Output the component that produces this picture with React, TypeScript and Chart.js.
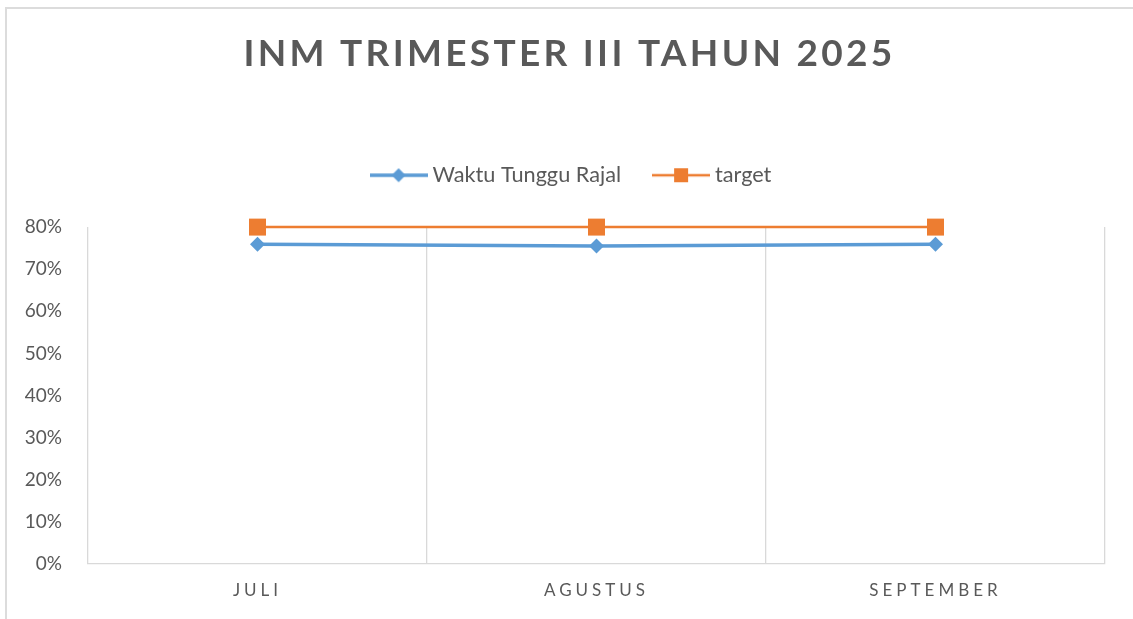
import React, { useEffect, useRef } from "react";
import { Chart, registerables } from "chart.js";

Chart.register(...registerables);

const categories = ["JULI", "AGUSTUS", "SEPTEMBER"];
const waktuTungguRajal = [75.9, 75.5, 75.9];
const targetValues = [80, 80, 80];
const seriesNames = ["Waktu Tunggu Rajal", "target"];
const chartTitle = "INM TRIMESTER III TAHUN 2025";
const yMax = 80;
const yStep = 10;

const BLUE = "#5B9BD5";
const ORANGE = "#ED7D31";
const TEXT = "#595959";
const GRID = "#d9d9d9";
const FONT = "Lato, 'Open Sans', sans-serif";

function makeLegendIcon(color: string, lineWidth: number, shape: "diamond" | "square"): HTMLCanvasElement {
  const c = document.createElement("canvas");
  c.width = 58;
  c.height = 18;
  const ctx = c.getContext("2d")!;
  ctx.strokeStyle = color;
  ctx.fillStyle = color;
  ctx.lineWidth = lineWidth;
  ctx.beginPath();
  ctx.moveTo(0, 9);
  ctx.lineTo(58, 9);
  ctx.stroke();
  if (shape === "diamond") {
    ctx.beginPath();
    ctx.moveTo(29 - 7, 9);
    ctx.lineTo(29, 2);
    ctx.lineTo(29 + 7, 9);
    ctx.lineTo(29, 16);
    ctx.closePath();
    ctx.fill();
  } else {
    ctx.fillRect(29 - 7, 2, 14, 14);
  }
  return c;
}

function patchDraw(obj: any, fnName: string, ctx: CanvasRenderingContext2D, spacing: string, dx: number) {
  if (!obj || obj["__patched_" + fnName]) return;
  const orig = obj[fnName].bind(obj);
  obj[fnName] = (...args: any[]) => {
    ctx.save();
    (ctx as any).letterSpacing = spacing;
    ctx.translate(dx, 0);
    orig(...args);
    ctx.restore();
  };
  obj["__patched_" + fnName] = true;
}

const spacingPlugin = {
  id: "letterSpacingPatch",
  beforeDraw(chart: any) {
    const ctx = chart.ctx;
    patchDraw(chart.titleBlock, "draw", ctx, "3.3px", 7);
    patchDraw(chart.legend, "draw", ctx, "0px", 11);
    patchDraw(chart.scales.x, "drawLabels", ctx, "4px", 0);
  },
};

export default function App() {
  const ref = useRef<HTMLCanvasElement | null>(null);

  useEffect(() => {
    if (!ref.current) return;
    const icons = [makeLegendIcon(BLUE, 3.5, "diamond"), makeLegendIcon(ORANGE, 2.5, "square")];
    const chart = new Chart(ref.current, {
      type: "line",
      data: {
        labels: categories,
        datasets: [
          {
            label: seriesNames[0],
            data: waktuTungguRajal,
            borderColor: BLUE,
            backgroundColor: BLUE,
            borderWidth: 3.5,
            pointStyle: "rectRot",
            pointRadius: 7.5,
            pointBorderWidth: 0,
            pointBackgroundColor: BLUE,
            pointBorderColor: BLUE,
            tension: 0,
            clip: false,
          },
          {
            label: seriesNames[1],
            data: targetValues,
            borderColor: ORANGE,
            backgroundColor: ORANGE,
            borderWidth: 2.5,
            pointStyle: "rect",
            pointRadius: 12,
            pointBorderWidth: 0,
            pointBackgroundColor: ORANGE,
            pointBorderColor: ORANGE,
            tension: 0,
            clip: false,
          },
        ],
      },
      options: {
        animation: false,
        responsive: false,
        maintainAspectRatio: false,
        layout: { padding: { left: 20, right: 28, top: 0, bottom: 0 } },
        plugins: {
          title: {
            display: true,
            text: chartTitle,
            color: TEXT,
            font: { family: FONT, size: 37, weight: "bold", lineHeight: 1.2 },
            padding: { top: 32, bottom: 51 },
          },
          subtitle: {
            display: true,
            text: "",
            position: "top",
            weight: 500,
            font: { size: 10, lineHeight: 1 },
            padding: { top: 0, bottom: 21 },
          },
          legend: {
            display: true,
            position: "top",
            labels: {
              color: TEXT,
              font: { family: FONT, size: 21.7 },
              usePointStyle: true,
              pointStyleWidth: 46,
              padding: 37,
              generateLabels: (ch: any) =>
                ch.data.datasets.map((ds: any, i: number) => ({
                  text: ds.label,
                  fillStyle: ds.borderColor,
                  strokeStyle: ds.borderColor,
                  lineWidth: 0,
                  pointStyle: icons[i],
                  hidden: false,
                  datasetIndex: i,
                  fontColor: TEXT,
                })),
            },
          },
          tooltip: { enabled: false },
        },
        scales: {
          x: {
            type: "category",
            offset: true,
            grid: { display: true, offset: true, color: GRID, lineWidth: 1.3, drawTicks: false },
            border: { display: true, color: GRID, width: 1.3 },
            ticks: { color: TEXT, font: { family: FONT, size: 17 }, padding: 16, maxRotation: 0 },
            afterFit: (s: any) => {
              s.height = 55;
            },
          },
          y: {
            min: 0,
            max: yMax,
            ticks: {
              stepSize: yStep,
              color: TEXT,
              font: { family: FONT, size: 19 },
              padding: 26,
              callback: (v: any) => `${v}%`,
            },
            grid: { display: false, drawTicks: false },
            border: { display: false },
            afterFit: (s: any) => {
              s.width = 68;
            },
          },
        },
      },
      plugins: [spacingPlugin],
    });
    return () => chart.destroy();
  }, []);

  return (
    <div style={{ position: "absolute", left: 0, top: 0, width: 1133, height: 619, background: "#fff", overflow: "hidden" }}>
      <div
        style={{
          position: "absolute",
          left: 5,
          top: 7,
          width: 1200,
          height: 700,
          borderTop: "2px solid #dcdcdc",
          borderLeft: "2px solid #dcdcdc",
          boxSizing: "border-box",
        }}
      />
      <canvas ref={ref} width={1133} height={619} style={{ position: "absolute", left: 0, top: 0, width: 1133, height: 619 }} />
    </div>
  );
}
